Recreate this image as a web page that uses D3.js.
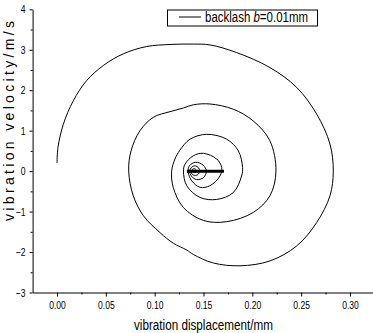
<!DOCTYPE html>
<html><head><meta charset="utf-8">
<script src="https://cdn.jsdelivr.net/npm/d3@7"></script>
<style>
html,body{margin:0;padding:0;background:#fff;}
svg{display:block;}
text{font-family:"Liberation Sans",Arial,sans-serif;fill:#000;}
</style></head>
<body>
<svg id="chart" width="373" height="333"></svg>
<script>
// ---- data ----
const dispX = [
 0.000,0.001,0.0065,0.0167,0.0304,0.0474,0.0679,0.0918,0.1157,0.1400,0.1566,0.184,0.218,0.2454,0.2659,0.2795,0.2829,0.2795,0.2659,0.2454,0.218,0.1874,0.160,0.1396,0.1328,0.119,0.1055,0.0884,0.0781,0.0734,
 0.0758,0.0850,0.0986,0.1157,0.1294,0.1396,0.1566,0.1805,0.201,0.218,0.2242,0.218,0.201,0.1737,0.150,0.1294,0.119,0.1174,
 0.1208,0.1259,0.1362,0.1533,0.1737,0.1857,0.190,0.189,0.1805,0.1635,0.1464,0.1328,0.1295,
 0.131,0.1396,0.150,0.1635,0.1686,0.1669,0.1566,0.1464,0.138,0.1344,
 0.1355,0.1420,0.1495,0.1530,0.1500,0.1430,0.1375,0.1360,
 0.1375,0.1410,0.1450,0.1460,0.1440,0.1400,0.1375,
 0.1385,0.1405,0.1425,0.1420,0.1395,0.1390
];
const velV = [
 0.20,0.59,1.16,1.74,2.24,2.61,2.90,3.08,3.13,3.14,3.12,2.93,2.56,2.07,1.41,0.67,0.0,-0.61,-1.27,-1.85,-2.22,-2.34,-2.27,-2.06,-1.95,-1.78,-1.52,-1.10,-0.61,0.0,
 0.50,1.00,1.33,1.47,1.56,1.64,1.66,1.53,1.24,0.75,0.0,-0.61,-1.02,-1.25,-1.22,-0.90,-0.40,0.0,
 0.30,0.52,0.79,0.91,0.79,0.50,0.09,-0.12,-0.53,-0.70,-0.65,-0.36,0.0,
 0.17,0.38,0.44,0.30,0.09,-0.12,-0.36,-0.40,-0.24,-0.03,
 0.13,0.22,0.15,0.0,-0.16,-0.21,-0.12,0.0,
 0.09,0.13,0.08,0.0,-0.09,-0.10,-0.04,
 0.04,0.06,0.03,-0.03,-0.03,0.0
];
const tailX = [0.133, 0.171];
const tailV = [0.0, 0.0];
const xTicks = [0.00,0.05,0.10,0.15,0.20,0.25,0.30];
const xMinor = [0.025,0.075,0.125,0.175,0.225,0.275,0.325];
const yTicks = [-3,-2,-1,0,1,2,3,4];
const yMinor = [-2.5,-1.5,-0.5,0.5,1.5,2.5,3.5];
const legendLabel = ["backlash ", "b", "=0.01mm"];
const xTitle = "vibration displacement/mm";
const yTitle = "vibration velocity/m/s";

// ---- drawing ----
const svg = d3.select("#chart");
const x = d3.scaleLinear().domain([-0.025, 0.325]).range([32.6, 374.4]);
const y = d3.scaleLinear().domain([-3, 4]).range([292.5, 9.3]);
const x0 = x.range()[0], y0 = y.range()[0];

// narrow look: compress glyph widths horizontally
function narrow(sel, k) {
  sel.each(function () {
    const w = this.getComputedTextLength();
    d3.select(this).attr("textLength", w * k).attr("lengthAdjust", "spacingAndGlyphs");
  });
}

const fmtX = d3.format(".2f");
// bottom axis
const gx = svg.append("g").attr("transform", `translate(0,${y0})`);
gx.call(d3.axisBottom(x).tickValues(xTicks).tickFormat(fmtX).tickSize(4).tickPadding(5).tickSizeOuter(0));
gx.append("g").call(d3.axisBottom(x).tickValues(xMinor).tickFormat("").tickSize(2).tickSizeOuter(0))
  .select(".domain").remove();
// left axis
const gy = svg.append("g").attr("transform", `translate(${x0},0)`);
gy.call(d3.axisLeft(y).tickValues(yTicks).tickFormat(d3.format("d")).tickSize(3).tickPadding(4).tickSizeOuter(0));
gy.append("g").call(d3.axisLeft(y).tickValues(yMinor).tickFormat("").tickSize(2).tickSizeOuter(0))
  .select(".domain").remove();
svg.selectAll("g").attr("font-family", null);
svg.selectAll(".tick text").attr("font-size", 11);
narrow(svg.selectAll(".tick text"), 0.78);
svg.selectAll(".domain, .tick line").attr("stroke", "#000").attr("stroke-width", 1);

// spiral
const pts = dispX.map((d, i) => [d, velV[i]]);
const line = d3.line().x(d => x(d[0])).y(d => y(d[1])).curve(d3.curveCatmullRom.alpha(0.5));
svg.append("path").datum(pts).attr("d", line)
  .attr("fill", "none").attr("stroke", "#000").attr("stroke-width", 1);
const tail = tailX.map((d, i) => [d, tailV[i]]);
svg.append("path").datum(tail).attr("d", d3.line().x(d => x(d[0])).y(d => y(d[1])))
  .attr("fill", "none").attr("stroke", "#000").attr("stroke-width", 3);

// titles
svg.append("text").attr("x", 203.5).attr("y", 330).attr("text-anchor", "middle")
  .attr("font-size", 14).attr("textLength", 139).attr("lengthAdjust", "spacingAndGlyphs").text(xTitle);
svg.append("text").attr("transform", "translate(14,121) rotate(-90)").attr("text-anchor", "middle")
  .attr("font-size", 14).attr("textLength", 200).attr("lengthAdjust", "spacing").text(yTitle);

// legend
const lg = svg.append("g");
lg.append("rect").attr("x", 167.5).attr("y", 10).attr("width", 150).attr("height", 16)
  .attr("fill", "#fff").attr("stroke", "#000").attr("stroke-width", 1);
lg.append("line").attr("x1", 179).attr("x2", 201).attr("y1", 17).attr("y2", 17)
  .attr("stroke", "#000").attr("stroke-width", 1);
const lt = lg.append("g").attr("transform", "translate(205,22) scale(0.82,1)")
  .append("text").attr("x", 0).attr("y", 0).attr("font-size", 14);
lt.append("tspan").text(legendLabel[0]);
lt.append("tspan").attr("font-style", "italic").text(legendLabel[1]);
lt.append("tspan").text(legendLabel[2]);
</script>
</body></html>
